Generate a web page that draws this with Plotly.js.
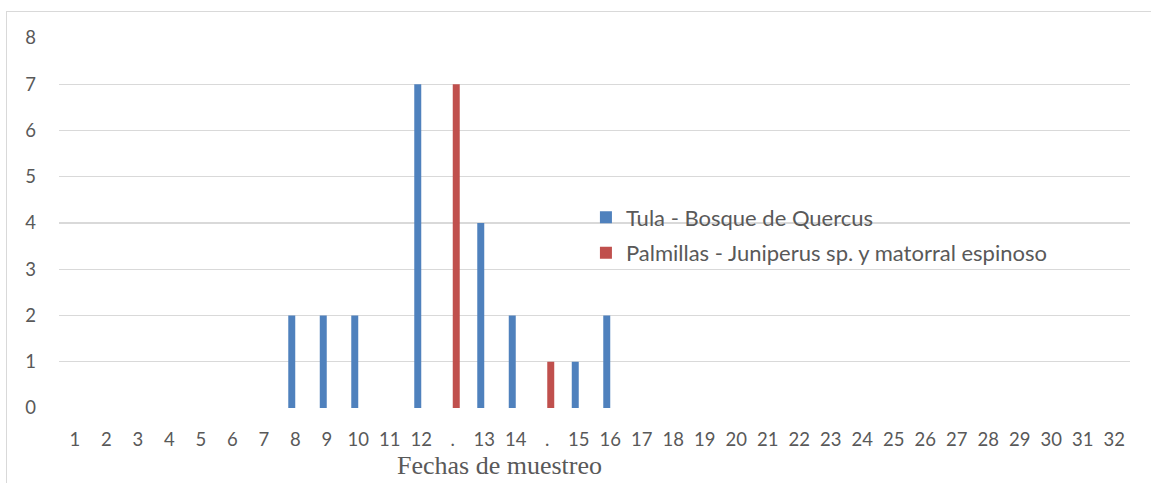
<!DOCTYPE html>
<html>
<head>
<meta charset="utf-8">
<script src="https://cdn.plot.ly/plotly-3.0.1.min.js"></script>
<style>
  html, body { margin: 0; padding: 0; background: #fff; }
  #frame { position: absolute; left: 6px; top: 11px; width: 1145px; height: 472px;
           border-top: 1.5px solid #d9d9d9; border-left: 1.5px solid #d9d9d9; box-sizing: border-box; }
  #chart { position: absolute; left: 0; top: 0; width: 1151px; height: 483px; }
</style>
</head>
<body>
<div id="frame"></div>
<div id="chart"></div>
<script>
// Categories (sampling dates) as labelled on the x axis
const categories = ["1","2","3","4","5","6","7","8","9","10","11","12",".","13","14",".","15","16","17","18","19","20","21","22","23","24","25","26","27","28","29","30","31","32"];
// Tula - Bosque de Quercus
const tula = [0,0,0,0,0,0,0,2,2,2,0,7,0,4,2,0,1,2,0,0,0,0,0,0,0,0,0,0,0,0,0,0,0,0];
// Palmillas - Juniperus sp. y matorral espinoso
const palmillas = [0,0,0,0,0,0,0,0,0,0,0,0,7,0,0,1,0,0,0,0,0,0,0,0,0,0,0,0,0,0,0,0,0,0];
const yTicks = [0,1,2,3,4,5,6,7,8];

const xIdx = categories.map((_, i) => i);
const tickFont = { family: "Lato, 'Open Sans', sans-serif", size: 18.5, color: "#595959" };

const data = [
  { type: "bar", name: "Tula - Bosque de Quercus", x: xIdx, y: tula,
    marker: { color: "#4f81bd" }, legendgroup: "a", hoverinfo: "skip" },
  { type: "bar", name: "Palmillas - Juniperus sp. y matorral espinoso", x: xIdx, y: palmillas,
    marker: { color: "#c0504d" }, legendgroup: "b", hoverinfo: "skip" }
];

const layout = {
  width: 1151, height: 483,
  margin: { l: 59, r: 21, t: 38, b: 75, pad: 0 },
  paper_bgcolor: "rgba(0,0,0,0)", plot_bgcolor: "rgba(0,0,0,0)",
  barmode: "group", bargap: 0.556, bargroupgap: 0,
  showlegend: true,
  legend: { x: 0.492, y: 0.572, xanchor: "left", yanchor: "top",
            font: { family: "Lato, 'Open Sans', sans-serif", size: 22, color: "#595959" },
            bgcolor: "rgba(0,0,0,0)", tracegroupgap: 4, traceorder: "grouped" },
  xaxis: {
    range: [-0.5, categories.length - 0.5],
    tickmode: "array", tickvals: xIdx, ticktext: categories,
    tickfont: tickFont, ticklabelstandoff: 18,
    showgrid: false, zeroline: false, showline: false, ticks: "", fixedrange: true
  },
  yaxis: {
    range: [0, 8], tickmode: "array", tickvals: yTicks,
    tickfont: tickFont, ticklabelstandoff: 22,
    showgrid: true, gridcolor: "#d9d9d9", gridwidth: 1.3,
    zeroline: false, showline: false, ticks: "", fixedrange: true
  },
  annotations: [
    { text: "Fechas de muestreo", xref: "paper", yref: "paper",
      x: (499 - 59) / 1071, y: -0.112, xanchor: "center", yanchor: "top", showarrow: false,
      font: { family: "'Liberation Serif', 'Times New Roman', serif", size: 26, color: "#595959" } }
  ]
};

Plotly.newPlot("chart", data, layout, { staticPlot: true, displayModeBar: false });
</script>
</body>
</html>
